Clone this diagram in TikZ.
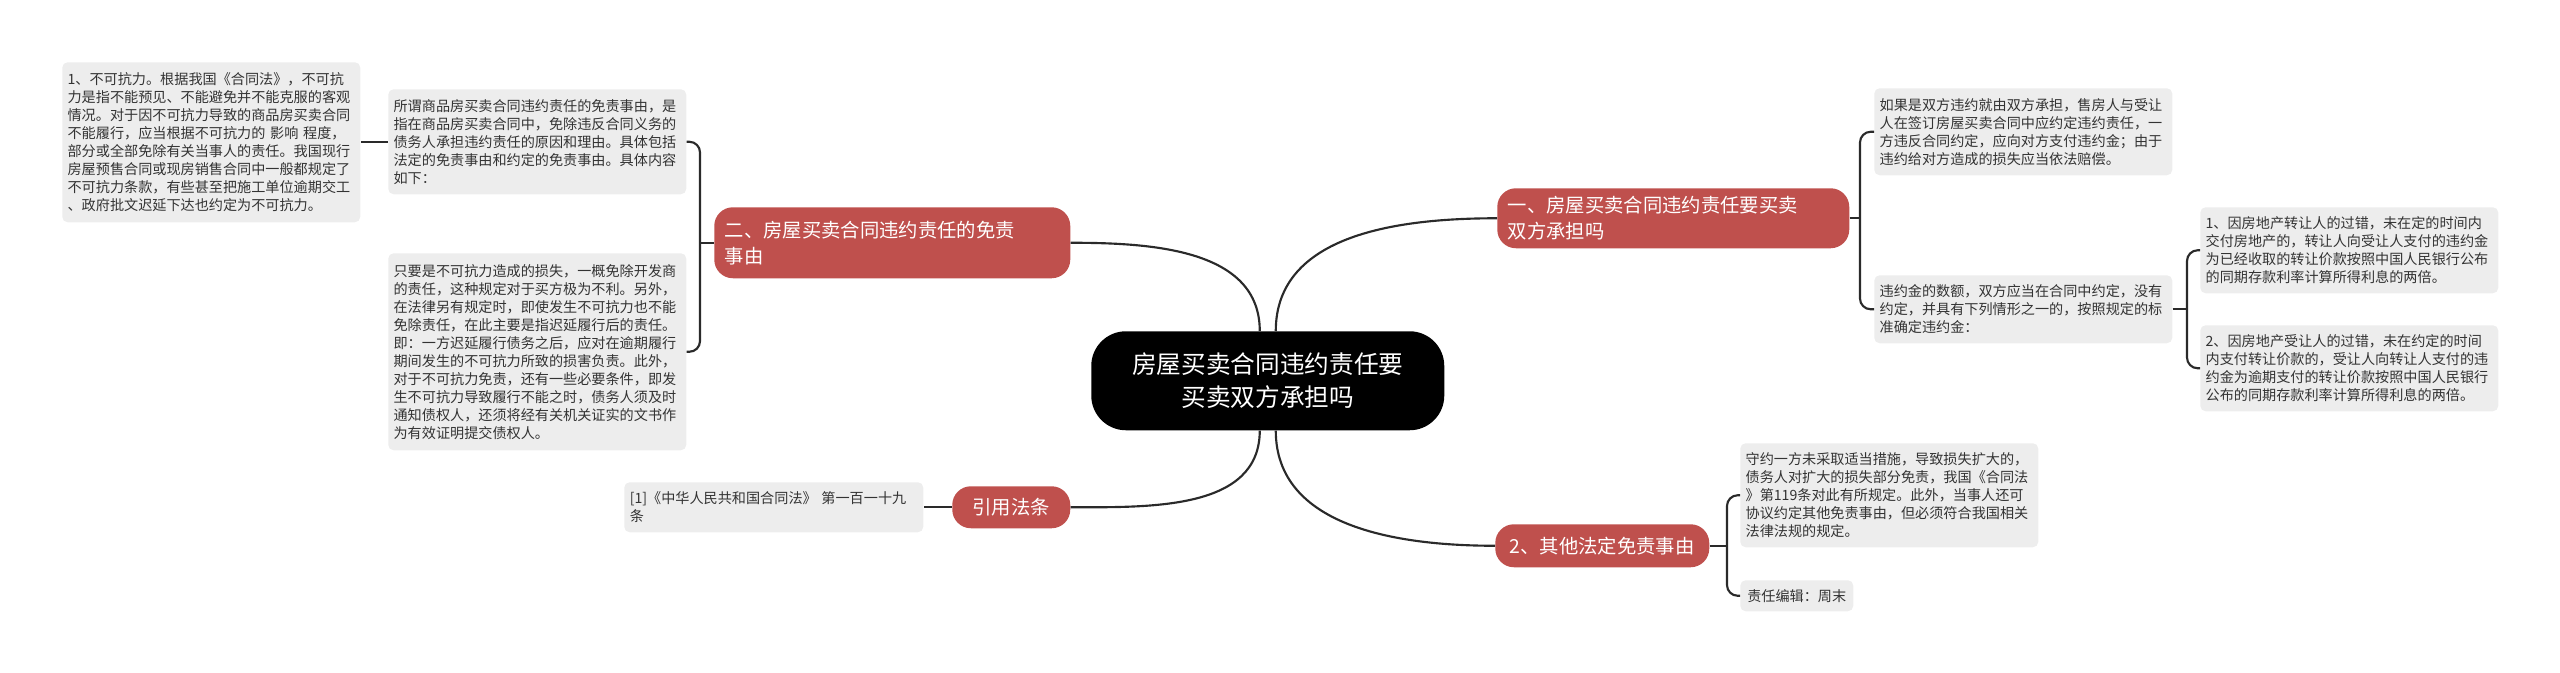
\documentclass[tikz,border=0pt]{standalone}
\usepackage{fontspec}
\newfontfamily\cjk{Noto Sans CJK SC}
\definecolor{redbr}{HTML}{BF504D}
\definecolor{leafbg}{HTML}{EDEDED}
\definecolor{linec}{HTML}{2A2A2A}
\definecolor{txt}{HTML}{333333}
\tikzset{
  leaf/.style={fill=leafbg, rounded corners=4pt, anchor=north west, inner xsep=4pt, inner ysep=0pt,
    align=left, text=txt, font=\cjk\fontsize{10.6pt}{13.5pt}\selectfont},
  branch/.style={fill=redbr, rounded corners=14pt, anchor=north west, inner xsep=8pt, inner ysep=0pt,
    align=left, text=white, font=\cjk\fontsize{14.5pt}{19.5pt}\selectfont},
  conn/.style={draw=linec, line width=1.6pt}
}
\begin{document}
\begin{tikzpicture}[x=0.75pt,y=-0.75pt]
\useasboundingbox (0,0) rectangle (2560,673);
% center
\node[fill=black, rounded corners=26pt, text=white, align=center, minimum width=264.75pt, minimum height=74.25pt,
  font=\cjk\fontsize{18.5pt}{24.5pt}\selectfont, anchor=north west] (c) at (1091,331) {房屋买卖合同违约责任要\\买卖双方承担吗};
% branches
\node[branch, minimum width=267pt, minimum height=53.25pt, text width=251pt] (b2) at (714,207) {二、房屋买卖合同违约责任的免责\\事由};
\node[branch, minimum width=264pt, minimum height=45pt, text width=248pt] (b1) at (1497,188) {一、房屋买卖合同违约责任要买卖\\双方承担吗};
\node[branch, minimum width=88.5pt, minimum height=31.5pt, align=center] (b3) at (952,486) {引用法条};
\node[branch, minimum width=160.5pt, minimum height=32.25pt, align=center] (b4) at (1495,524) {2、其他法定免责事由};
% leaves left
\node[leaf, minimum width=223.5pt, minimum height=120pt, text width=215.5pt] (l1) at (62,62) {1、不可抗力。根据我国《合同法》，不可抗\\力是指不能预见、不能避免并不能克服的客观\\情况。对于因不可抗力导致的商品房买卖合同\\不能履行，应当根据不可抗力的 影响 程度，\\部分或全部免除有关当事人的责任。我国现行\\房屋预售合同或现房销售合同中一般都规定了\\不可抗力条款，有些甚至把施工单位逾期交工\\、政府批文迟延下达也约定为不可抗力。};
\node[leaf, minimum width=223.5pt, minimum height=78.75pt, text width=215.5pt] (l2) at (388,89) {所谓商品房买卖合同违约责任的免责事由，是\\指在商品房买卖合同中，免除违反合同义务的\\债务人承担违约责任的原因和理由。具体包括\\法定的免责事由和约定的免责事由。具体内容\\如下：};
\node[leaf, minimum width=223.5pt, minimum height=147.75pt, text width=215.5pt] (l3) at (388,253) {只要是不可抗力造成的损失，一概免除开发商\\的责任，这种规定对于买方极为不利。另外，\\在法律另有规定时，即使发生不可抗力也不能\\免除责任，在此主要是指迟延履行后的责任。\\即：一方迟延履行债务之后，应对在逾期履行\\期间发生的不可抗力所致的损害负责。此外，\\对于不可抗力免责，还有一些必要条件，即发\\生不可抗力导致履行不能之时，债务人须及时\\通知债权人，还须将经有关机关证实的文书作\\为有效证明提交债权人。};
\node[leaf, minimum width=224.25pt, minimum height=37.5pt, text width=216pt] (l4) at (624,482) {[1]《中华人民共和国合同法》 第一百一十九\\条};
% leaves right
\node[leaf, minimum width=223.5pt, minimum height=65.25pt, text width=215.5pt] (r1) at (1874,88) {如果是双方违约就由双方承担，售房人与受让\\人在签订房屋买卖合同中应约定违约责任，一\\方违反合同约定，应向对方支付违约金；由于\\违约给对方造成的损失应当依法赔偿。};
\node[leaf, minimum width=223.5pt, minimum height=51pt, text width=215.5pt] (r2) at (1874,275) {违约金的数额，双方应当在合同中约定，没有\\约定，并具有下列情形之一的，按照规定的标\\准确定违约金：};
\node[leaf, minimum width=223.5pt, minimum height=64.5pt, text width=215.5pt] (s1) at (2200,207) {1、因房地产转让人的过错，未在定的时间内\\交付房地产的，转让人向受让人支付的违约金\\为已经收取的转让价款按照中国人民银行公布\\的同期存款利率计算所得利息的两倍。};
\node[leaf, minimum width=223.5pt, minimum height=64.5pt, text width=215.5pt] (s2) at (2200,325) {2、因房地产受让人的过错，未在约定的时间\\内支付转让价款的，受让人向转让人支付的违\\约金为逾期支付的转让价款按照中国人民银行\\公布的同期存款利率计算所得利息的两倍。};
\node[leaf, minimum width=223.5pt, minimum height=78pt, text width=215.5pt] (t1) at (1740,443) {守约一方未采取适当措施，导致损失扩大的，\\债务人对扩大的损失部分免责，我国《合同法\\》第119条对此有所规定。此外，当事人还可\\协议约定其他免责事由，但必须符合我国相关\\法律法规的规定。};
\node[leaf, minimum width=84.75pt, minimum height=23.25pt] (t2) at (1740,580) {责任编辑：周末};
% bracket coordinates
\coordinate (kl) at (700,0);
\coordinate (kr) at (1860,0);
\coordinate (ks) at (2187,0);
\coordinate (kt) at (1727,0);
% center connectors
\draw[conn] ([xshift=-6pt]c.north) to[out=90,in=0] (b2.east);
\draw[conn] ([xshift=6pt]c.north) to[out=90,in=180] (b1.west);
\draw[conn] ([xshift=-6pt]c.south) to[out=-90,in=0] (b3.east);
\draw[conn] ([xshift=6pt]c.south) to[out=-90,in=180] (b4.west);
% brackets
\draw[conn] (b2.west) -- (kl |- b2.west);
\draw[conn, rounded corners=8pt] (l2.east) -| (kl |- b2.west) |- (l3.east);
\draw[conn] (l2.west |- l1.east) -- (l1.east);
\draw[conn] (b3.west) -- (l4.east);
\draw[conn] (b1.east) -- (kr |- b1.east);
\draw[conn, rounded corners=8pt] (r1.west) -| (kr |- b1.east) |- (r2.west);
\draw[conn] (r2.east) -- (ks |- r2.east);
\draw[conn, rounded corners=8pt] (s1.west) -| (ks |- r2.east) |- (s2.west);
\draw[conn] (b4.east) -- (kt |- b4.east);
\draw[conn, rounded corners=8pt] (t1.west) -| (kt |- b4.east) |- (t2.west);
\end{tikzpicture}
\end{document}
